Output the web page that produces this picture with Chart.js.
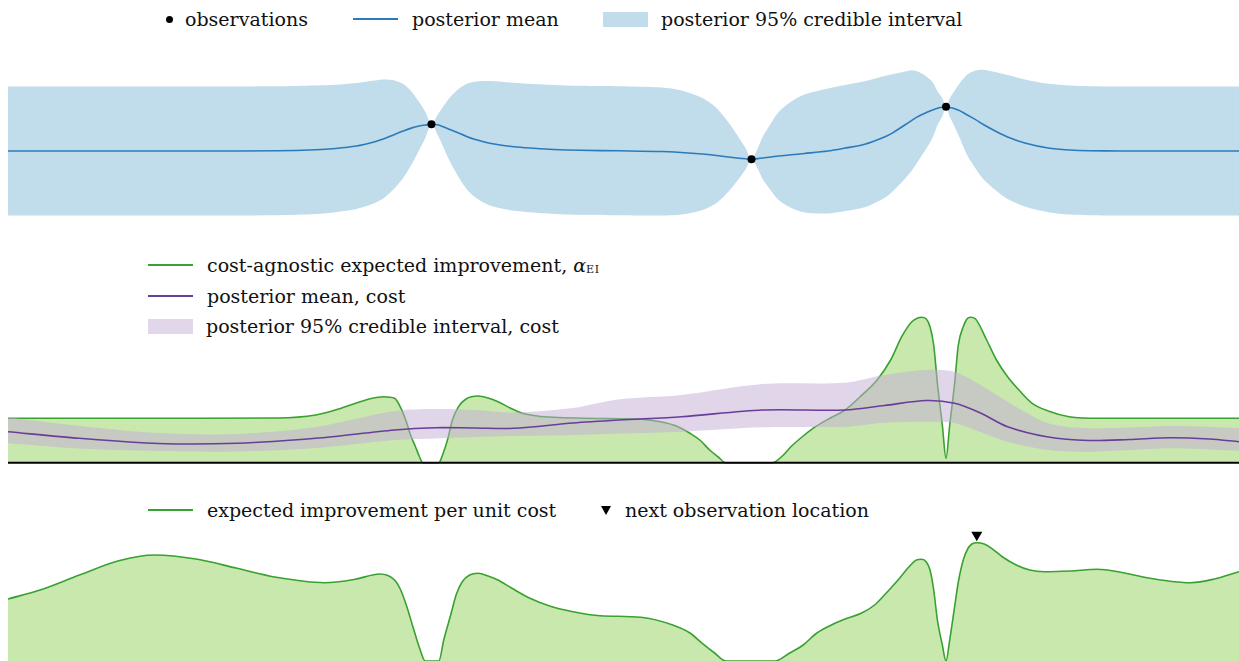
<!DOCTYPE html>
<html>
<head>
<meta charset="utf-8">
<script src="https://cdn.jsdelivr.net/npm/chart.js@4.4.1/dist/chart.umd.min.js"></script>
<style>
  body { margin: 0; background: #fff; }
  #wrap { position: relative; width: 1239px; height: 661px; overflow: hidden;
          font-family: "DejaVu Serif", serif; font-size: 19px; color: #111; }
  #wrap canvas { position: absolute; left: 8px; }
  .item { position: absolute; display: flex; align-items: center; white-space: nowrap; height: 22px; }
  .ln { display: inline-block; width: 45px; height: 2px; margin-right: 14px; }
  .patch { display: inline-block; width: 45px; height: 15px; margin-right: 13px; }
  .dot { display: inline-block; width: 7px; height: 7px; border-radius: 50%; background: #000; margin-right: 12px; }
  .tri { display: inline-block; width: 0; height: 0; border-left: 5px solid transparent;
         border-right: 5px solid transparent; border-top: 9px solid #000; margin-right: 14px; }
  .sub { font-size: 11px; position: relative; top: 4px; letter-spacing: 0.5px; }
</style>
</head>
<body>
<div id="wrap">
  <div class="item" style="left:166px;top:8px"><span class="dot"></span>observations</div>
  <div class="item" style="left:353px;top:8px"><span class="ln" style="background:#2b7bba"></span>posterior mean</div>
  <div class="item" style="left:603px;top:8px"><span class="patch" style="background:#c1dcea"></span>posterior 95% credible interval</div>

  <div class="item" style="left:148px;top:254px"><span class="ln" style="background:#38a12f"></span>cost-agnostic expected improvement,&nbsp;<i>α</i><span class="sub">EI</span></div>
  <div class="item" style="left:148px;top:285px"><span class="ln" style="background:#6a3d9a"></span>posterior mean, cost</div>
  <div class="item" style="left:148px;top:315px"><span class="patch" style="background:#e2d7ea"></span>posterior 95% credible interval, cost</div>

  <div class="item" style="left:148px;top:499px"><span class="ln" style="background:#38a12f"></span>expected improvement per unit cost</div>
  <div class="item" style="left:601px;top:499px"><span class="tri"></span>next observation location</div>

  <canvas id="gp" width="1231" height="170" style="top:60px"></canvas>
  <canvas id="cost" width="1231" height="170" style="top:300px"></canvas>
  <canvas id="eipc" width="1231" height="141" style="top:520px"></canvas>
</div>
<script>
// objective GP posterior
const gpX = [0, 0.75, 1.56, 2.19, 2.5, 2.66, 2.83, 2.98, 3.06, 3.14,
  3.21, 3.27, 3.34, 3.39, 3.44, 3.49, 3.53, 3.59, 3.66, 3.72,
  3.79, 3.87, 3.95, 4.11, 4.27, 4.43, 4.65, 4.97, 5.31, 5.47,
  5.64, 5.74, 5.8, 5.87, 5.94, 5.99, 6.04, 6.09, 6.13, 6.2,
  6.26, 6.36, 6.47, 6.66, 6.79, 6.96, 7.12, 7.19, 7.33, 7.39,
  7.46, 7.51, 7.55, 7.59, 7.62, 7.65, 7.69, 7.73, 7.79, 7.86,
  7.92, 8.02, 8.12, 8.26, 8.45, 8.63, 8.78, 9.03, 9.44, 10];
const gpMean = [0, 0, 0, 0.006, 0.036, 0.076, 0.152, 0.283, 0.38, 0.505,
  0.608, 0.688, 0.758, 0.79, 0.812, 0.796, 0.745, 0.653, 0.547, 0.451,
  0.355, 0.274, 0.213, 0.128, 0.082, 0.046, 0.021, 0.006, -0.015, -0.046,
  -0.091, -0.128, -0.158, -0.188, -0.219, -0.237, -0.252, -0.231, -0.213, -0.182,
  -0.152, -0.116, -0.076, 0, 0.082, 0.205, 0.425, 0.56, 0.9, 1.045,
  1.17, 1.246, 1.301, 1.331, 1.347, 1.322, 1.286, 1.228, 1.1, 0.955,
  0.815, 0.608, 0.426, 0.243, 0.091, 0.03, 0.009, 0, 0, 0];
const gpSd = [1, 1, 1, 1, 0.997, 0.988, 0.977, 0.95, 0.915, 0.837,
  0.729, 0.589, 0.372, 0.202, 0, 0.155, 0.295, 0.496, 0.682, 0.806,
  0.891, 0.946, 0.974, 0.992, 0.997, 1, 1, 1, 0.992, 0.961,
  0.868, 0.76, 0.651, 0.496, 0.31, 0.171, 0, 0.155, 0.326, 0.527,
  0.682, 0.822, 0.915, 0.969, 0.977, 0.977, 0.946, 0.907, 0.791, 0.698,
  0.558, 0.434, 0.264, 0.14, 0, 0.14, 0.279, 0.419, 0.62, 0.76,
  0.845, 0.915, 0.961, 0.984, 0.995, 1, 1, 1, 1, 1];
const obsX = [3.44, 6.04, 7.62];
const obsY = [0.812, -0.252, 1.347];

// cost-agnostic expected improvement
const eiX = [0, 0.75, 1.56, 2.19, 2.5, 2.66, 2.83, 2.95, 3.05, 3.14,
  3.19, 3.24, 3.27, 3.31, 3.34, 3.37, 3.44, 3.5, 3.53, 3.57,
  3.61, 3.66, 3.72, 3.82, 3.9, 3.98, 4.08, 4.18, 4.3, 4.43,
  4.97, 5.13, 5.3, 5.43, 5.54, 5.62, 5.7, 5.77, 5.83, 6.03,
  6.21, 6.29, 6.36, 6.46, 6.56, 6.68, 6.8, 6.92, 7.06, 7.17,
  7.26, 7.34, 7.39, 7.42, 7.46, 7.49, 7.52, 7.55, 7.59, 7.62,
  7.65, 7.69, 7.72, 7.76, 7.79, 7.82, 7.86, 7.95, 8.03, 8.12,
  8.22, 8.32, 8.45, 8.62, 8.87, 10];
const eiY = [0.444, 0.444, 0.444, 0.447, 0.477, 0.527, 0.597, 0.642, 0.66, 0.644,
  0.55, 0.394, 0.277, 0.16, 0.067, 0, 0, 0, 0.077, 0.227,
  0.427, 0.56, 0.637, 0.667, 0.647, 0.61, 0.547, 0.494, 0.467, 0.454,
  0.44, 0.437, 0.41, 0.367, 0.294, 0.227, 0.127, 0.057, 0, 0,
  0, 0.067, 0.16, 0.267, 0.36, 0.447, 0.527, 0.657, 0.827, 1.027,
  1.26, 1.407, 1.447, 1.454, 1.437, 1.36, 1.177, 0.794, 0.377, 0.044,
  0.377, 0.794, 1.177, 1.36, 1.437, 1.454, 1.437, 1.227, 1.027, 0.86,
  0.717, 0.594, 0.517, 0.46, 0.444, 0.444];

// cost GP posterior (log-normal, so the band is not symmetric)
const costX = [0, 0.58, 1.22, 1.86, 2.5, 3.14, 3.47, 3.79, 4.11, 4.59,
  4.97, 5.47, 6.13, 6.8, 7.12, 7.46, 7.69, 7.9, 8.12, 8.45,
  8.78, 9.11, 9.44, 9.76, 10];
const costMean = [0.31, 0.244, 0.192, 0.194, 0.244, 0.327, 0.35, 0.347, 0.344, 0.397,
  0.427, 0.46, 0.527, 0.527, 0.572, 0.622, 0.594, 0.497, 0.36, 0.257,
  0.222, 0.232, 0.25, 0.237, 0.21];
const costUpper = [0.454, 0.367, 0.297, 0.287, 0.357, 0.517, 0.537, 0.527, 0.502, 0.547,
  0.634, 0.677, 0.787, 0.8, 0.877, 0.927, 0.907, 0.777, 0.61, 0.394,
  0.344, 0.352, 0.367, 0.357, 0.344];
const costLower = [0.194, 0.142, 0.117, 0.112, 0.147, 0.227, 0.242, 0.257, 0.267, 0.277,
  0.292, 0.31, 0.354, 0.36, 0.4, 0.41, 0.397, 0.307, 0.21, 0.127,
  0.11, 0.127, 0.144, 0.132, 0.12];

// expected improvement per unit cost
const eipcX = [0, 0.26, 0.58, 0.9, 1.19, 1.54, 1.86, 2.18, 2.57, 2.82,
  3.02, 3.14, 3.19, 3.24, 3.29, 3.34, 3.39, 3.5, 3.54, 3.6,
  3.64, 3.69, 3.75, 3.82, 3.9, 3.98, 4.09, 4.24, 4.4, 4.59,
  4.81, 5.14, 5.4, 5.54, 5.64, 5.74, 5.83, 6.23, 6.35, 6.46,
  6.56, 6.66, 6.8, 6.93, 7.04, 7.12, 7.23, 7.32, 7.38, 7.42,
  7.46, 7.49, 7.52, 7.55, 7.59, 7.62, 7.65, 7.69, 7.72, 7.76,
  7.8, 7.83, 7.87, 7.93, 7.99, 8.08, 8.19, 8.3, 8.42, 8.63,
  8.85, 9.03, 9.21, 9.4, 9.61, 9.8, 10];
const eipcY = [0.62, 0.71, 0.86, 1.003, 1.06, 1.017, 0.927, 0.837, 0.783, 0.817,
  0.87, 0.81, 0.71, 0.543, 0.34, 0.143, 0, 0, 0.21, 0.477,
  0.66, 0.793, 0.86, 0.877, 0.85, 0.81, 0.73, 0.627, 0.55, 0.493,
  0.453, 0.437, 0.36, 0.28, 0.177, 0.08, 0, 0, 0.08, 0.16,
  0.27, 0.343, 0.42, 0.477, 0.56, 0.66, 0.81, 0.943, 1.01, 1.017,
  0.99, 0.91, 0.71, 0.41, 0.16, 0, 0.21, 0.543, 0.79, 1.01,
  1.13, 1.17, 1.183, 1.17, 1.127, 1.04, 0.96, 0.91, 0.893, 0.9,
  0.917, 0.89, 0.843, 0.805, 0.783, 0.82, 0.893];

const blue = '#2b7bba', blueBand = '#c1dcea';
const green = '#38a12f', greenFill = '#c9e8ae';
const purple = '#6a3d9a', purpleBand = 'rgba(196,172,214,0.5)';

const pts = (xs, ys) => xs.map((x, i) => ({x: x, y: ys[i]}));

function baseOptions(yMin, yMax) {
  return {
    responsive: false,
    animation: false,
    devicePixelRatio: 1,
    layout: {padding: 0, autoPadding: false},
    plugins: {legend: {display: false}, tooltip: {enabled: false}},
    elements: {
      point: {radius: 0},
      line: {cubicInterpolationMode: 'monotone', borderWidth: 1.6}
    },
    scales: {
      x: {type: 'linear', display: false, min: 0, max: 10},
      y: {display: false, min: yMin, max: yMax}
    }
  };
}

// black axis line at zero under the acquisition panel
const zeroLine = {
  id: 'zeroLine',
  afterDatasetsDraw(chart) {
    const {ctx, chartArea, scales} = chart;
    const y0 = scales.y.getPixelForValue(0);
    ctx.save();
    ctx.strokeStyle = '#000';
    ctx.lineWidth = 2;
    ctx.beginPath();
    ctx.moveTo(chartArea.left, y0);
    ctx.lineTo(chartArea.right, y0);
    ctx.stroke();
    ctx.restore();
  }
};

// downward triangle sitting on the maximiser of the acquisition function
const nextMarker = {
  id: 'nextMarker',
  afterDatasetsDraw(chart) {
    const {ctx, scales} = chart;
    const best = eipcY.indexOf(Math.max(...eipcY));
    const px = scales.x.getPixelForValue(eipcX[best]);
    const py = scales.y.getPixelForValue(eipcY[best]);
    ctx.save();
    ctx.fillStyle = '#000';
    ctx.beginPath();
    ctx.moveTo(px - 5.5, py - 11);
    ctx.lineTo(px + 5.5, py - 11);
    ctx.lineTo(px, py - 1.5);
    ctx.closePath();
    ctx.fill();
    ctx.restore();
  }
};

const gpUpper = gpMean.map((m, i) => m + 1.96 * gpSd[i]);
const gpLower = gpMean.map((m, i) => m - 1.96 * gpSd[i]);

// the GP curves use plain bezier smoothing, they have no flat zero stretches
const smooth = {cubicInterpolationMode: 'default', tension: 0.3};

new Chart(document.getElementById('gp'), {
  type: 'line',
  data: {
    datasets: [
      {data: pts(obsX, obsY), showLine: false, pointRadius: 4, pointBackgroundColor: '#000', pointBorderColor: '#000', pointBorderWidth: 0},
      {data: pts(gpX, gpMean), borderColor: blue, fill: false, ...smooth},
      {data: pts(gpX, gpLower), borderColor: 'transparent', fill: false, ...smooth},
      {data: pts(gpX, gpUpper), borderColor: 'transparent', backgroundColor: blueBand, fill: 2, ...smooth}
    ]
  },
  options: baseOptions(-2.401, 2.766)
});

new Chart(document.getElementById('cost'), {
  type: 'line',
  data: {
    datasets: [
      {data: pts(costX, costMean), borderColor: purple, fill: false, ...smooth},
      {data: pts(costX, costUpper), borderColor: 'transparent', backgroundColor: purpleBand, fill: 2, ...smooth},
      {data: pts(costX, costLower), borderColor: 'transparent', fill: false, ...smooth},
      {data: pts(eiX, eiY), borderColor: green, backgroundColor: greenFill, fill: 'origin'}
    ]
  },
  options: baseOptions(-0.073, 1.627),
  plugins: [zeroLine]
});

new Chart(document.getElementById('eipc'), {
  type: 'line',
  data: {
    datasets: [
      {data: pts(eipcX, eipcY), borderColor: green, backgroundColor: greenFill, fill: 'origin'}
    ]
  },
  options: baseOptions(0, 1.41),
  plugins: [nextMarker]
});
</script>
</body>
</html>
